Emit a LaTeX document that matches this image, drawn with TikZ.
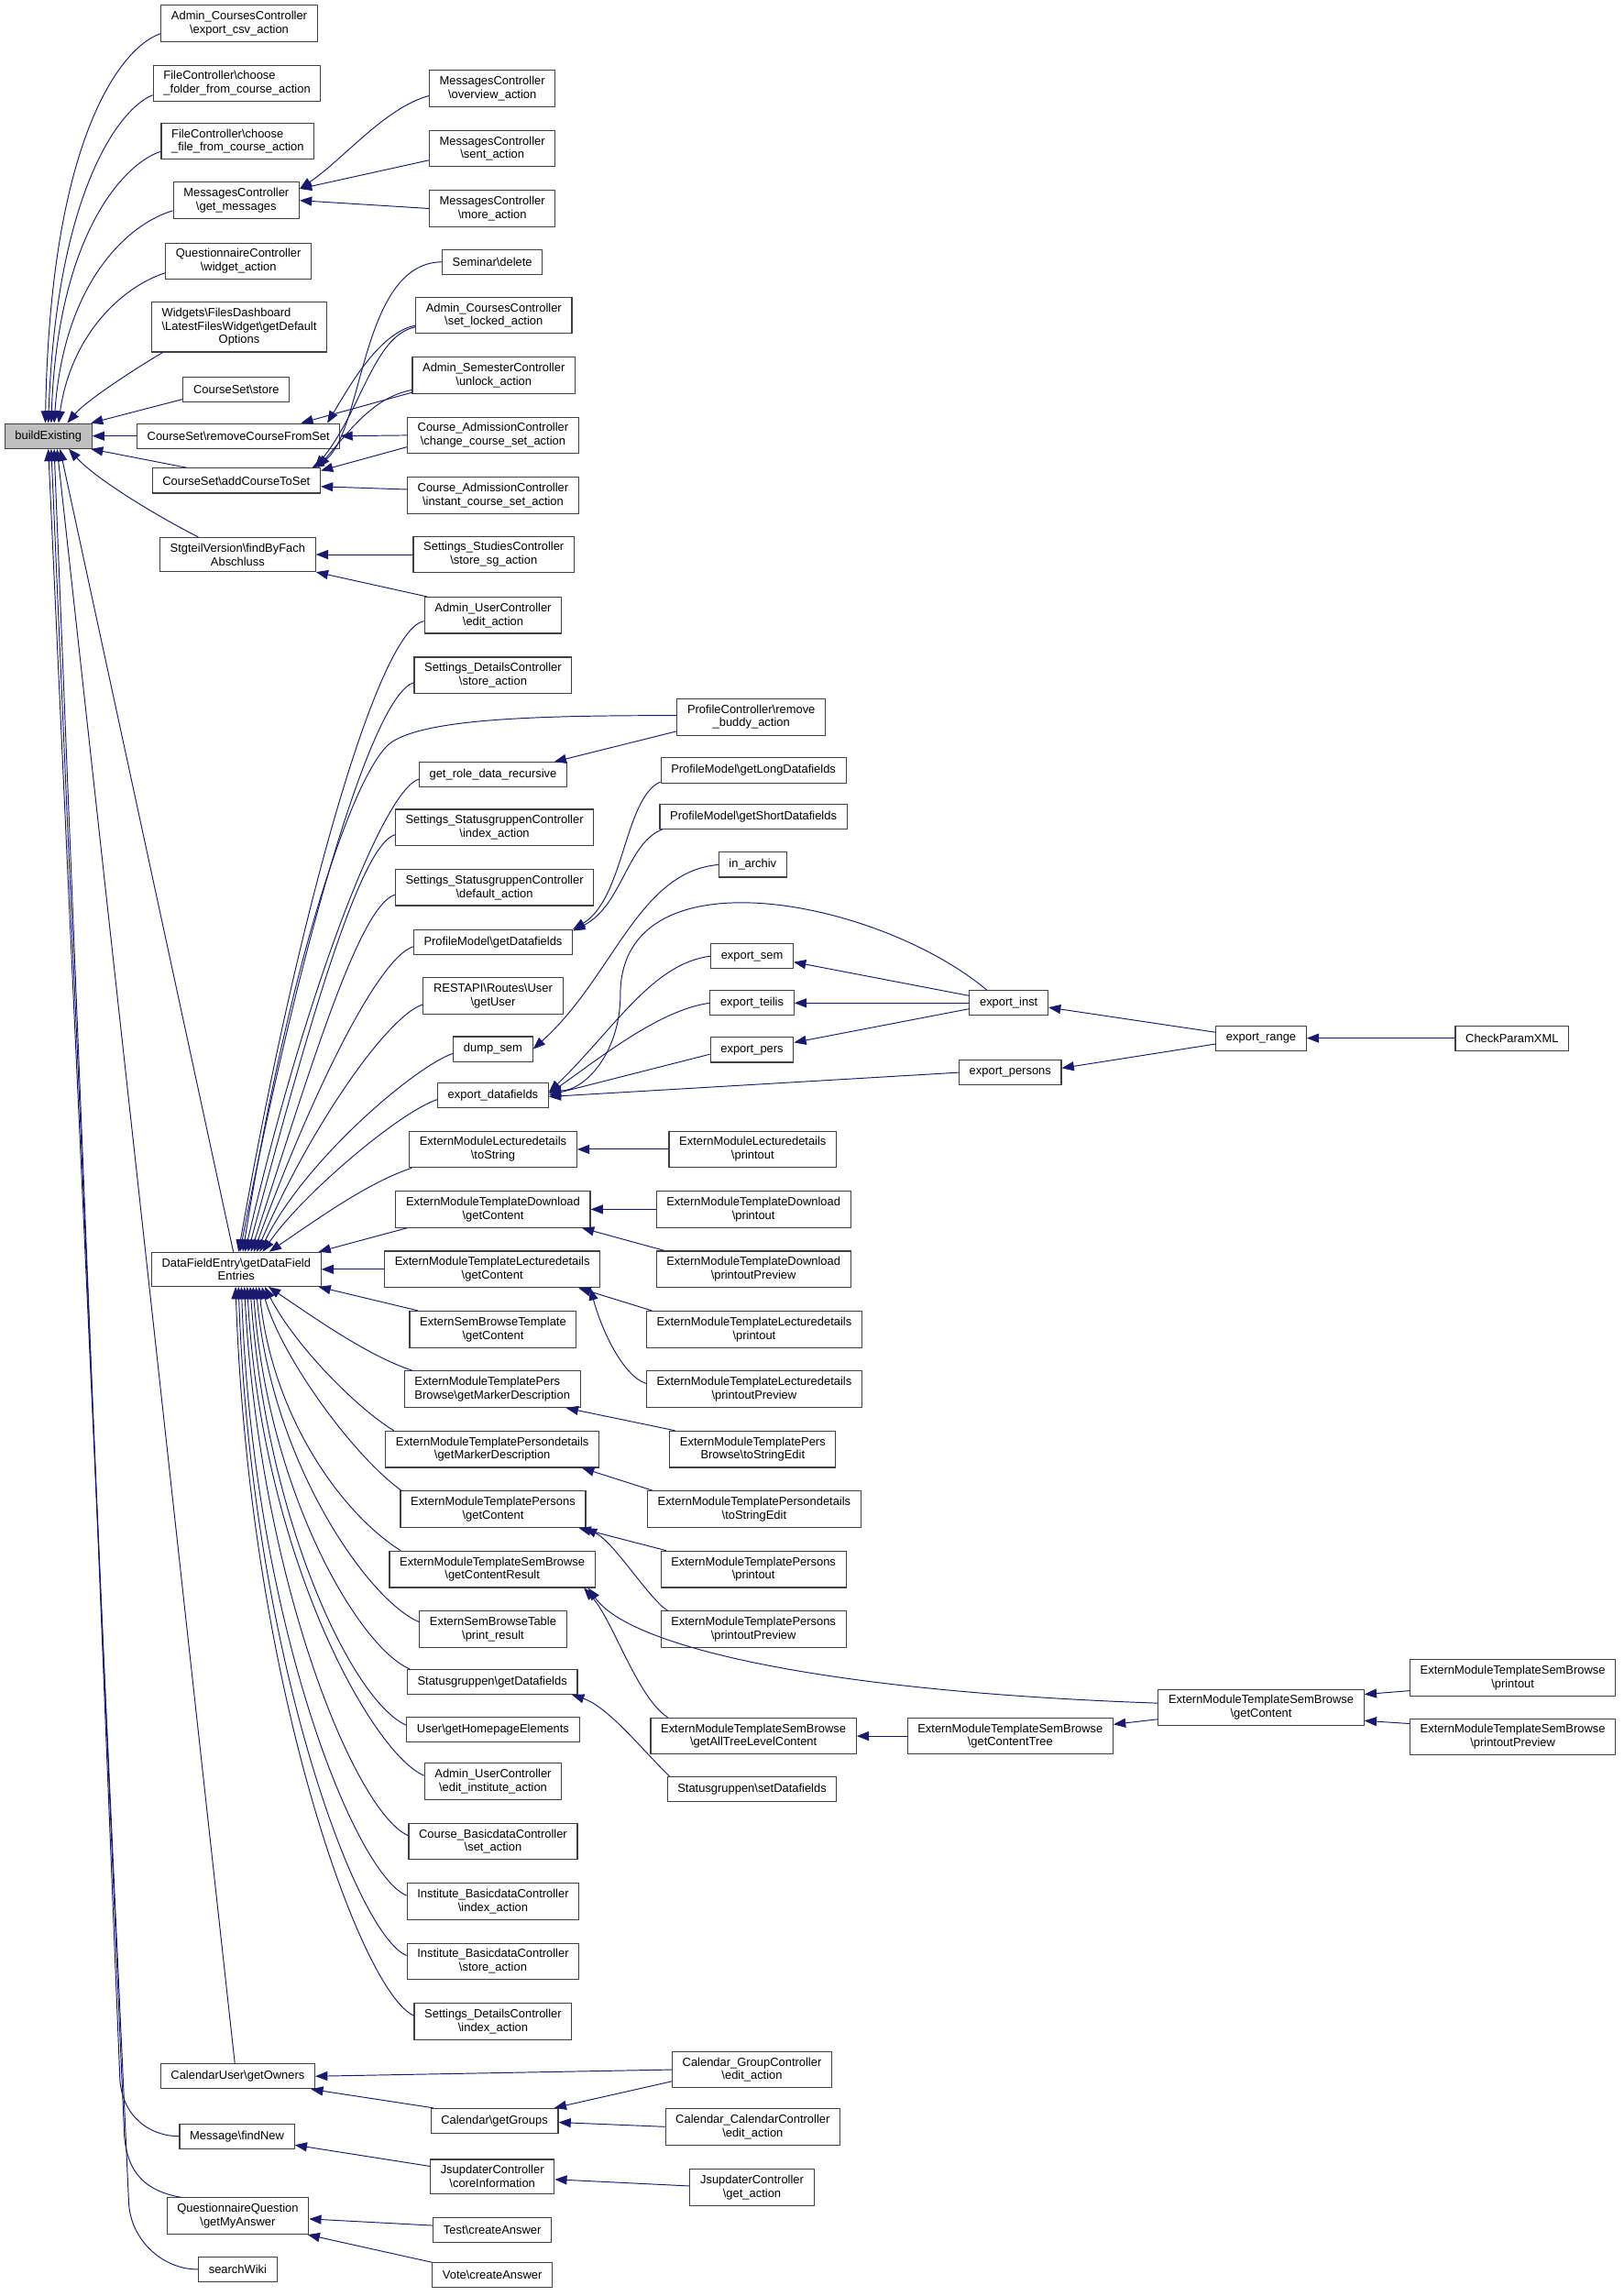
\documentclass[tikz,border=0pt]{standalone}
\usepackage{fontspec}
\setmainfont{Liberation Sans}
\usetikzlibrary{arrows.meta}
\definecolor{midnight}{RGB}{25,25,112}
\newcommand{\bs}{\textbackslash}
\newcommand{\lfirst}[2]{\rlap{#1}\phantom{#2}}

\begin{document}
\begin{tikzpicture}[x=1pt,y=1pt,
  fn/.style={draw=black!75,line width=0.7pt,fill=white,align=center,
    font=\fontsize{8.1}{9.3}\selectfont,inner xsep=7pt,inner ysep=4pt,minimum height=17pt},
  cur/.style={fn,fill=black!25},
  call/.style={midnight,line width=0.6pt,-{Triangle[length=8.3pt,width=6.3pt]}},
  spline/.style n args={4}{out=#1,out distance=#2,in=#3,in distance=#4}]
\useasboundingbox (0,0) rectangle (1110,-1569.2);

\node[cur] (b) at (33,-298) {buildExisting};

\node[fn] (acc) at (163.5,-16) {Admin\_CoursesController\\\bs export\_csv\_action};
\node[fn] (fcfolder) at (162,-57) {\lfirst{FileController\bs choose}{\_folder\_from\_course\_action}\\\_folder\_from\_course\_action};
\node[fn] (fcfile) at (162.5,-96.5) {\lfirst{FileController\bs choose}{\_file\_from\_course\_action}\\\_file\_from\_course\_action};
\node[fn] (getmsg) at (161.5,-137) {MessagesController\\\bs get\_messages};
\node[fn] (qwidget) at (163,-178.5) {QuestionnaireController\\\bs widget\_action};
\node[fn] (widgets) at (163.5,-223.5) {\lfirst{Widgets\bs FilesDashboard}{\bs LatestFilesWidget\bs getDefault}\\\bs LatestFilesWidget\bs getDefault\\Options};
\node[fn] (csstore) at (161.5,-266) {CourseSet\bs store};
\node[fn] (csremove) at (163,-298) {CourseSet\bs removeCourseFromSet};
\node[fn] (csadd) at (161.5,-328.5) {CourseSet\bs addCourseToSet};
\node[fn] (stgfind) at (162.5,-379) {StgteilVersion\bs findByFach\\Abschluss};
\node[fn] (dfe) at (161.5,-867.5) {DataFieldEntry\bs getDataField\\Entries};
\node[fn] (calowners) at (162.5,-1419) {CalendarUser\bs getOwners};
\node[fn] (msgnew) at (162,-1460) {Message\bs findNew};
\node[fn] (qqanswer) at (162.5,-1514.5) {QuestionnaireQuestion\\\bs getMyAnswer};
\node[fn] (wiki) at (162.5,-1551) {searchWiki};

\node[fn] (msgover) at (336.5,-60.5) {MessagesController\\\bs overview\_action};
\node[fn] (msgsent) at (336.5,-101.5) {MessagesController\\\bs sent\_action};
\node[fn] (msgmore) at (336.5,-142.5) {MessagesController\\\bs more\_action};
\node[fn] (semdel) at (336.5,-179) {Seminar\bs delete};
\node[fn] (acslock) at (337.5,-215.5) {Admin\_CoursesController\\\bs set\_locked\_action};
\node[fn] (asunlock) at (337.5,-256.5) {Admin\_SemesterController\\\bs unlock\_action};
\node[fn] (cachange) at (337,-297.5) {Course\_AdmissionController\\\bs change\_course\_set\_action};
\node[fn] (cainstant) at (337,-338.5) {Course\_AdmissionController\\\bs instant\_course\_set\_action};
\node[fn] (ssstore) at (337.5,-379) {Settings\_StudiesController\\\bs store\_sg\_action};
\node[fn] (auedit) at (337,-420.5) {Admin\_UserController\\\bs edit\_action};
\node[fn] (sdstore) at (337,-461.5) {Settings\_DetailsController\\\bs store\_action};
\node[fn] (roledata) at (337,-529.5) {get\_role\_data\_recursive};
\node[fn] (sgindex) at (338,-565.5) {Settings\_StatusgruppenController\\\bs index\_action};
\node[fn] (sgdefault) at (338,-606.5) {Settings\_StatusgruppenController\\\bs default\_action};
\node[fn] (pmget) at (337,-644) {ProfileModel\bs getDatafields};
\node[fn] (restuser) at (337,-680.5) {RESTAPI\bs Routes\bs User\\\bs getUser};
\node[fn] (dumpsem) at (337,-717) {dump\_sem};
\node[fn] (expdf) at (337,-748.5) {export\_datafields};
\node[fn] (ldtostr) at (337,-785.5) {ExternModuleLecturedetails\\\bs toString};
\node[fn] (tdget) at (337,-826.5) {ExternModuleTemplateDownload\\\bs getContent};
\node[fn] (tldget) at (336.5,-867.5) {ExternModuleTemplateLecturedetails\\\bs getContent};
\node[fn] (esbtget) at (337,-908.5) {ExternSemBrowseTemplate\\\bs getContent};
\node[fn] (pbmarker) at (336.5,-949.5) {\lfirst{ExternModuleTemplatePers}{Browse\bs getMarkerDescription}\\Browse\bs getMarkerDescription};
\node[fn] (pdmarker) at (336.5,-990.5) {ExternModuleTemplatePersondetails\\\bs getMarkerDescription};
\node[fn] (persget) at (337,-1031.5) {ExternModuleTemplatePersons\\\bs getContent};
\node[fn] (sbresult) at (336.5,-1072.5) {ExternModuleTemplateSemBrowse\\\bs getContentResult};
\node[fn] (esbtable) at (337,-1113.5) {ExternSemBrowseTable\\\bs print\_result};
\node[fn] (sgget) at (336.5,-1149.5) {Statusgruppen\bs getDatafields};
\node[fn] (userhome) at (337,-1182) {User\bs getHomepageElements};
\node[fn] (aueinst) at (337,-1217.5) {Admin\_UserController\\\bs edit\_institute\_action};
\node[fn] (cbset) at (337,-1258.5) {Course\_BasicdataController\\\bs set\_action};
\node[fn] (ibindex) at (337,-1299.5) {Institute\_BasicdataController\\\bs index\_action};
\node[fn] (ibstore) at (337,-1340.5) {Institute\_BasicdataController\\\bs store\_action};
\node[fn] (sdindex) at (337,-1381.5) {Settings\_DetailsController\\\bs index\_action};
\node[fn] (calgroups) at (338,-1449.5) {Calendar\bs getGroups};
\node[fn] (jscore) at (336.5,-1487.5) {JsupdaterController\\\bs coreInformation};
\node[fn] (testans) at (336.5,-1524) {Test\bs createAnswer};
\node[fn] (voteans) at (336.5,-1555) {Vote\bs createAnswer};

\node[fn] (rembuddy) at (513.5,-490) {ProfileController\bs remove\\\_buddy\_action};
\node[fn] (pmlong) at (515,-526.5) {ProfileModel\bs getLongDatafields};
\node[fn] (pmshort) at (515,-558) {ProfileModel\bs getShortDatafields};
\node[fn] (inarchiv) at (514.5,-591) {in\_archiv};
\node[fn] (expsem) at (514,-653.5) {export\_sem};
\node[fn] (expteilis) at (514,-685.5) {export\_teilis};
\node[fn] (exppers) at (514,-717.5) {export\_pers};
\node[fn] (ldprint) at (514.5,-785.5) {ExternModuleLecturedetails\\\bs printout};
\node[fn] (tdprint) at (515,-826.5) {ExternModuleTemplateDownload\\\bs printout};
\node[fn] (tdpreview) at (515,-867.5) {ExternModuleTemplateDownload\\\bs printoutPreview};
\node[fn] (tldprint) at (515.5,-908.5) {ExternModuleTemplateLecturedetails\\\bs printout};
\node[fn] (tldpreview) at (515.5,-949.5) {ExternModuleTemplateLecturedetails\\\bs printoutPreview};
\node[fn] (pbedit) at (514.5,-990.5) {ExternModuleTemplatePers\\Browse\bs toStringEdit};
\node[fn] (pdedit) at (515.5,-1031.5) {ExternModuleTemplatePersondetails\\\bs toStringEdit};
\node[fn] (persprint) at (515,-1072.5) {ExternModuleTemplatePersons\\\bs printout};
\node[fn] (perspreview) at (515,-1113.5) {ExternModuleTemplatePersons\\\bs printoutPreview};
\node[fn] (sbtree) at (515,-1186.5) {ExternModuleTemplateSemBrowse\\\bs getAllTreeLevelContent};
\node[fn] (sgset) at (514,-1223) {Statusgruppen\bs setDatafields};
\node[fn] (calgroupedit) at (514,-1414.5) {Calendar\_GroupController\\\bs edit\_action};
\node[fn] (calcaledit) at (514.5,-1453.5) {Calendar\_CalendarController\\\bs edit\_action};
\node[fn] (jsget) at (514,-1495) {JsupdaterController\\\bs get\_action};

\node[fn] (expinst) at (689.5,-685.5) {export\_inst};
\node[fn] (exppersons) at (690.5,-733) {export\_persons};
\node[fn] (sbcontenttree) at (690.5,-1186.5) {ExternModuleTemplateSemBrowse\\\bs getContentTree};
\node[fn] (exprange) at (862,-709.5) {export\_range};
\node[fn] (sbcontent) at (862,-1167) {ExternModuleTemplateSemBrowse\\\bs getContent};
\node[fn] (checkxml) at (1033.5,-709.5) {CheckParamXML};
\node[fn] (sbprint) at (1034,-1146.5) {ExternModuleTemplateSemBrowse\\\bs printout};
\node[fn] (sbpreview) at (1034,-1187) {ExternModuleTemplateSemBrowse\\\bs printoutPreview};

\coordinate (budbend) at (268,-507);
\coordinate (instbend) at (424,-680);
\coordinate (newbend) at (82,-1422);
\coordinate (qqbend) at (85,-1460);
\coordinate (wikibend) at (88,-1505);

\path[call]
  ([yshift=2pt]csstore.south west) edge ([xshift=-1pt]b.north east)
  (csremove.west) edge (b.east)
  ([xshift=24pt]csadd.north west) edge ([xshift=-1pt]b.south east)
  ([xshift=-2pt]dfe.north) edge ([xshift=8pt]b.south)
  ([xshift=-2pt]calowners.north) edge ([xshift=6pt]b.south);
\draw[call] ([yshift=-7pt]acc.west) to[spline={198}{26}{89}{200}] ([xshift=-2pt]b.north);
\draw[call] ([yshift=-8pt]fcfolder.west) to[spline={200}{23}{88}{160}] (b.north);
\draw[call] ([yshift=-7pt]fcfile.west) to[spline={198}{26}{88}{130}] ([xshift=2pt]b.north);
\draw[call] ([yshift=-7pt]getmsg.west) to[spline={196}{29}{86}{100}] ([xshift=4pt]b.north);
\draw[call] ([yshift=-8pt]qwidget.west) to[spline={198}{32}{82}{60}] ([xshift=7pt]b.north);
\draw[call] ([xshift=8pt]widgets.south west) to[spline={210}{20}{50}{20}] ([xshift=13pt]b.north);
\draw[call] ([xshift=-27pt]stgfind.north) to[spline={153}{34}{-48}{27}] ([xshift=14pt]b.south);
\draw[call] (msgnew.west) to[spline={180}{20}{-85}{25}] (newbend) -- ([xshift=4pt]b.south);
\draw[call] ([xshift=10pt]qqanswer.north west) to[spline={170}{25}{-85}{25}] (qqbend) -- ([xshift=2pt]b.south);
\draw[call] (wiki.west) to[spline={180}{25}{-88}{25}] (wikibend) -- (b.south);

\path[call]
  ([yshift=-8pt]msgsent.west) edge ([yshift=8pt]getmsg.east)
  (msgmore.west) edge (getmsg.east)
  ([yshift=1pt]asunlock.south west) edge ([xshift=-27pt]csremove.north east)
  (cachange.west) edge (csremove.east)
  ([yshift=-8pt]cachange.west) edge ([yshift=-2pt]csadd.north east)
  ([yshift=4pt]cainstant.west) edge ([yshift=-4pt]csadd.east)
  (ssstore.west) edge (stgfind.east)
  ([xshift=2pt]auedit.north west) edge (stgfind.south east);
\draw[call] ([yshift=-5pt]msgover.west) to[spline={195}{31}{34}{36}] ([yshift=8pt]getmsg.east);
\draw[call] (semdel.west) to[spline={181}{57}{29}{41}] ([xshift=-6pt]csadd.north east);
\draw[call] ([yshift=-7pt]acslock.west) to[spline={191}{25}{59}{29}] ([xshift=-9pt]csremove.north east);
\draw[call] ([yshift=-8pt]acslock.west) to[spline={192}{29}{51}{51}] ([xshift=-4pt]csadd.north east);
\draw[call] ([yshift=-10pt]asunlock.west) to[spline={191}{25}{50}{39}] ([xshift=-2pt]csadd.north east);

\path[call]
  ([yshift=3pt]rembuddy.south west) edge ([xshift=-9pt]roledata.north east)
  ([xshift=8pt]tdget.south west) edge ([xshift=-2pt]dfe.north east)
  (tldget.west) edge (dfe.east)
  ([xshift=6pt]esbtget.north west) edge ([xshift=-2pt]dfe.south east);
\draw[call] ([yshift=-4pt]auedit.west) to[spline={189}{30}{80}{250}] ([xshift=1.5pt]dfe.north);
\draw[call] ([yshift=-5pt]sdstore.west) to[spline={196}{29}{79}{220}] ([xshift=2.5pt]dfe.north);
\draw[call] ([yshift=-3pt]roledata.west) to[spline={198}{26}{77}{180}] ([xshift=6pt]dfe.north);
\draw[call] ([yshift=-5pt]sgindex.west) to[spline={198}{26}{75}{155}] ([xshift=8pt]dfe.north);
\draw[call] ([yshift=-5pt]sgdefault.west) to[spline={198}{26}{72}{130}] ([xshift=10pt]dfe.north);
\draw[call] ([yshift=-3pt]pmget.west) to[spline={198}{26}{70}{110}] ([xshift=12pt]dfe.north);
\draw[call] ([yshift=-6pt]restuser.west) to[spline={198}{26}{67}{90}] ([xshift=14pt]dfe.north);
\draw[call] ([yshift=-3pt]dumpsem.west) to[spline={198}{26}{64}{70}] ([xshift=16pt]dfe.north);
\draw[call] ([yshift=-3pt]expdf.west) to[spline={198}{26}{55}{50}] ([xshift=18pt]dfe.north);
\draw[call] ([xshift=2pt]ldtostr.south west) to[spline={198}{32}{34}{36}] ([xshift=22.5pt]dfe.north);
\draw[call] ([xshift=6pt]pbmarker.north west) to[spline={162}{32}{-34}{36}] ([xshift=22pt]dfe.south);
\draw[call] ([xshift=6pt]pdmarker.north west) to[spline={149}{29}{-63}{45}] ([xshift=19.5pt]dfe.south);
\draw[call] ([xshift=1pt]persget.north west) to[spline={144}{43}{-75}{47}] ([xshift=17.5pt]dfe.south);
\draw[call] ([xshift=8pt]sbresult.north west) to[spline={148}{47}{-84}{90}] ([xshift=15.5pt]dfe.south);
\draw[call] ([yshift=5pt]esbtable.west) to[spline={157}{38}{-85}{120}] ([xshift=13.5pt]dfe.south);
\draw[call] ([xshift=2pt]sgget.north west) to[spline={157}{38}{-86}{140}] ([xshift=11.5pt]dfe.south);
\draw[call] ([yshift=3pt]userhome.west) to[spline={157}{38}{-86}{165}] ([xshift=9.5pt]dfe.south);
\draw[call] ([yshift=4pt]aueinst.west) to[spline={157}{38}{-87}{185}] ([xshift=7.5pt]dfe.south);
\draw[call] ([yshift=4pt]cbset.west) to[spline={157}{38}{-87}{205}] ([xshift=5.5pt]dfe.south);
\draw[call] ([yshift=4pt]ibindex.west) to[spline={157}{38}{-88}{230}] ([xshift=3.5pt]dfe.south);
\draw[call] ([yshift=4pt]ibstore.west) to[spline={157}{38}{-88}{250}] ([xshift=1.5pt]dfe.south);
\draw[call] ([yshift=4pt]sdindex.west) to[spline={157}{38}{-88}{275}] ([xshift=-0.5pt]dfe.south);
\draw[call] ([yshift=1pt]rembuddy.west) to[spline={180}{90}{33}{30}] (budbend)
  to[spline={213}{30}{81}{200}] ([xshift=4.5pt]dfe.north);
\draw[call] ([xshift=-15pt]expinst.north) to[spline={140}{97}{90}{100}] (instbend)
  to[spline={-90}{40}{0}{24}] ([yshift=3pt]expdf.east);

\path[call]
  ([yshift=-3pt]exppers.west) edge (expdf.east)
  (exppersons.west) edge ([yshift=-1pt]expdf.east)
  ([yshift=5pt]expinst.west) edge ([yshift=-4pt]expsem.east)
  (expinst.west) edge (expteilis.east)
  ([yshift=-4pt]expinst.west) edge ([yshift=5pt]exppers.east)
  ([yshift=4pt]exprange.west) edge ([yshift=-3pt]expinst.east)
  ([yshift=-4pt]exprange.west) edge ([yshift=3pt]exppersons.east)
  (checkxml.west) edge (exprange.east)
  (ldprint.west) edge (ldtostr.east)
  (tdprint.west) edge (tdget.east)
  ([xshift=6pt]tdpreview.north west) edge ([xshift=-6pt]tdget.south east)
  ([xshift=4pt]tldprint.north west) edge ([xshift=-15pt]tldget.south east)
  ([xshift=4pt]pbedit.north west) edge ([xshift=-10pt]pbmarker.south east)
  ([xshift=4pt]pdedit.north west) edge ([xshift=-12pt]pdmarker.south east)
  ([xshift=4pt]persprint.north west) edge ([xshift=-5pt]persget.south east)
  (sbcontenttree.west) edge (sbtree.east)
  ([yshift=-8pt]sbcontent.west) edge ([yshift=8pt]sbcontenttree.east)
  ([yshift=-9pt]sbprint.west) edge ([yshift=9pt]sbcontent.east)
  ([yshift=9pt]sbpreview.west) edge ([yshift=-9pt]sbcontent.east)
  (calgroupedit.west) edge (calowners.east)
  ([yshift=-8pt]calgroupedit.west) edge ([xshift=-3pt]calgroups.north east)
  ([xshift=2pt]calgroups.north west) edge ([xshift=-3pt]calowners.south east)
  (calcaledit.west) edge ([yshift=-1pt]calgroups.east)
  ([yshift=7pt]jscore.west) edge ([yshift=-6pt]msgnew.east)
  ([yshift=1pt]jsget.west) edge ([yshift=-2pt]jscore.east)
  ([yshift=3pt]testans.west) edge ([yshift=-2pt]qqanswer.east)
  (voteans.north west) edge ([xshift=-1pt]qqanswer.south east);
\draw[call] ([yshift=1pt]pmlong.south west) to[spline={204}{27}{31}{41}] (pmget.north east);
\draw[call] ([xshift=2pt]pmshort.south west) to[spline={201}{26}{27}{38}] ([yshift=-1pt]pmget.north east);
\draw[call] (inarchiv.west) to[spline={185}{55}{42}{74}] (dumpsem.east);
\draw[call] (expsem.west) to[spline={187}{40}{44}{61}] ([yshift=2pt]expdf.east);
\draw[call] (expteilis.west) to[spline={188}{35}{35}{43}] ([yshift=1pt]expdf.east);
\draw[call] ([yshift=4pt]tldpreview.west) to[spline={162}{16}{-75}{31}] ([xshift=-7pt]tldget.south east);
\draw[call] ([xshift=5pt]perspreview.north west) to[spline={150}{14}{-25}{22}] ([xshift=-1pt]persget.south east);
\draw[call] ([yshift=3pt]sbcontent.west) to[spline={178}{231}{-55}{49}] ([xshift=-5pt]sbresult.south east);
\draw[call] ([xshift=12pt]sbtree.north west) to[spline={147}{25}{-48}{30}] ([xshift=-8pt]sbresult.south east);
\draw[call] ([xshift=2pt]sgset.north west) to[spline={136}{25}{-18}{26}] ([xshift=-4pt]sgget.south east);
\end{tikzpicture}
\end{document}
